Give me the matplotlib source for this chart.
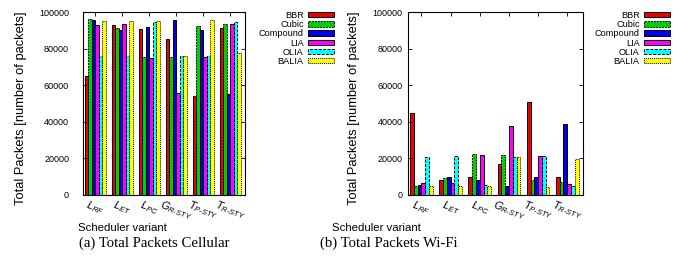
import numpy as np
import matplotlib
matplotlib.use("Agg")
import matplotlib.pyplot as plt
import matplotlib.patches as patches

plt.rcParams["font.family"] = ["Liberation Sans", "DejaVu Sans"]
plt.rcParams["mathtext.fontset"] = "custom"
plt.rcParams["mathtext.it"] = "Liberation Sans:italic"
plt.rcParams["mathtext.rm"] = "Liberation Sans"

schedulers = ["LRF", "LET", "LPC", "GR-STY", "TP-STY", "TR-STY"]
algos = ["BBR", "Cubic", "Compound", "LIA", "OLIA", "BALIA"]

# cellular, one list per algorithm (order of schedulers)
cell_bbr = [65000, 92900, 90900, 85000, 54100, 91400]
cell_cubic = [96200, 91400, 75400, 75600, 92200, 93600]
cell_compound = [95600, 90300, 91800, 95800, 90300, 55200]
cell_lia = [92900, 93300, 74700, 55700, 75200, 93400]
cell_olia = [76000, 75800, 94500, 75800, 75800, 94700]
cell_balia = [94900, 95100, 95100, 75800, 95400, 77400]

# wi-fi
wifi_bbr = [44600, 8400, 10000, 16900, 50800, 9800]
wifi_cubic = [4900, 9100, 22600, 22000, 8200, 6900]
wifi_compound = [5300, 9800, 8400, 4900, 9800, 38800]
wifi_lia = [6700, 6600, 22000, 37900, 21500, 6000]
wifi_olia = [20900, 21300, 5300, 20900, 21100, 4900]
wifi_balia = [4900, 4900, 4900, 20900, 4600, 19500]

colors = ["#ee0000", "#00d000", "#0000ee", "#ff00ff", "#00ffff", "#ffff00"]
edge_styles = ["-", (0, (2, 1)), "-", "-", (0, (3, 1.5)), (0, (1, 1))]


def sub_label(name):
    # first letter normal, rest as subscript (gnuplot enhanced text look)
    rest = name[1:].replace("-", r"\text{-}")
    return r"$\mathit{%s}_{\mathit{%s}}$" % (name[0], rest)


def draw_panel(fig, rect, series, ylabel_x, xlabel_x, leg_x, ypad):
    ax = fig.add_axes(rect)
    x = np.arange(len(schedulers))
    w = 0.13
    handles = []
    for i, vals in enumerate(series):
        ax.bar(x + (i - 2.5) * w, vals, w, color=colors[i], edgecolor="black",
               linewidth=0.7, linestyle=edge_styles[i])
        handles.append(patches.Rectangle((0, 0), 1, 1, facecolor=colors[i],
                                         edgecolor="black", linewidth=0.7,
                                         linestyle=edge_styles[i]))
    ax.set_xlim(-0.46, 5.54)
    ax.set_ylim(0, 100000)
    ax.set_yticks(range(0, 100001, 20000))
    ax.set_xticks(x)
    ax.tick_params(direction="in", length=3, width=0.6, top=True, right=True)
    ax.tick_params(axis="y", pad=ypad, labelsize=6.5)
    ax.tick_params(axis="x", pad=2)
    ax.set_xticklabels([sub_label(s) for s in schedulers], rotation=-20,
                       ha="center", va="top", fontsize=7.8)
    for s in ax.spines.values():
        s.set_linewidth(0.8)
    fig.text(ylabel_x, 0.595, "Total Packets [number of packets]", rotation=90,
             ha="center", va="center", fontsize=9.3)
    fig.text(xlabel_x, 1 - 228 / 268, "Scheduler variant", ha="center",
             va="center", fontsize=8.2)
    fig.legend(handles, algos, loc="upper right", bbox_to_anchor=(leg_x, 1 - 11 / 268),
               frameon=False, markerfirst=False, fontsize=6.6, handlelength=2.8,
               handleheight=0.5, labelspacing=0.02, handletextpad=0.5,
               borderpad=0, borderaxespad=0)
    return ax


fig = plt.figure(figsize=(6.88, 2.68), dpi=100)
bot = 1 - 195 / 268
h = 183 / 268
draw_panel(fig, [83 / 688, bot, 162 / 688, h],
           [cell_bbr, cell_cubic, cell_compound, cell_lia, cell_olia, cell_balia],
           21 / 688, 122 / 688, 334 / 688, 10)
draw_panel(fig, [408 / 688, bot, 175 / 688, h],
           [wifi_bbr, wifi_cubic, wifi_compound, wifi_lia, wifi_olia, wifi_balia],
           354 / 688, 376 / 688, 670 / 688, 4)

fig.text(154 / 688, 1 - 243 / 268, "(a) Total Packets Cellular", ha="center",
         va="center", fontsize=10.6, family=["Liberation Serif", "DejaVu Serif"])
fig.text(389 / 688, 1 - 243 / 268, "(b) Total Packets Wi-Fi", ha="center",
         va="center", fontsize=10.6, family=["Liberation Serif", "DejaVu Serif"])

fig.savefig("out.png", dpi=100)
